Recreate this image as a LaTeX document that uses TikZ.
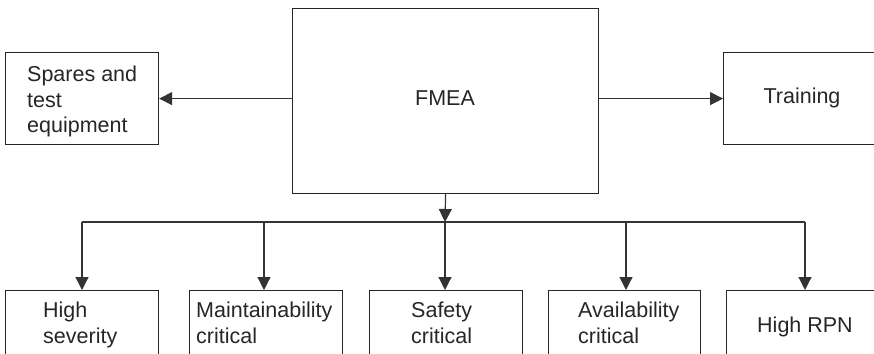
\documentclass[tikz,border=0pt]{standalone}
\usepackage{fontspec}
\setmainfont{Liberation Sans}
\usetikzlibrary{arrows.meta}
\begin{document}
\begin{tikzpicture}[x=1pt,y=-1pt,
 box/.style={draw=black!85, line width=1.2pt, inner sep=0pt, anchor=north west},
 lbl/.style={font=\fontsize{21.5}{25.5}\selectfont, text=black!85, inner sep=0pt, align=left},
 arr/.style={draw=black!80, line width=1.2pt, -{Triangle[length=13pt,width=13pt]}},
 ln/.style={draw=black!80, line width=1.2pt}]
\useasboundingbox (0,0) rectangle (874,353);
\clip (0,0) rectangle (874,353);
% top row
\node[box, minimum width=306pt, minimum height=185pt] (fmea) at (292,8) {};
\node[lbl] (fmeaT) at (445,98) {FMEA};
\node[box, minimum width=153pt, minimum height=92pt] (spares) at (5,52) {};
\node[lbl, anchor=north west] (sparesT) at (27,66) {Spares and\\test\\equipment};
\node[box, minimum width=170pt, minimum height=92pt] (train) at (723,52) {};
\node[lbl] (trainT) at (802,98) {Training};
% bottom row
\node[box, minimum width=153pt, minimum height=100pt] (b1) at (5,290) {};
\node[box, minimum width=153pt, minimum height=100pt] (b2) at (189,290) {};
\node[box, minimum width=153pt, minimum height=100pt] (b3) at (369,290) {};
\node[box, minimum width=152pt, minimum height=100pt] (b4) at (548,290) {};
\node[box, minimum width=170pt, minimum height=100pt] (b5) at (726,290) {};
\node[lbl, anchor=north west] (b1T) at (43,302) {High\\severity};
\node[lbl, anchor=north west] (b2T) at (196,302) {Maintainability\\critical};
\node[lbl, anchor=north west] (b3T) at (411,302) {Safety\\critical};
\node[lbl, anchor=north west] (b4T) at (578,302) {Availability\\critical};
\node[lbl] (b5T) at (805,327) {High RPN};
% connectors
\draw[arr] (fmea.west |- spares.east) -- (spares.east);
\draw[arr] (fmea.east |- train.west) -- (train.west);
\coordinate (bus) at (445,222);
\coordinate (busL) at (82,222);
\coordinate (busR) at (805,222);
\draw[arr] (fmea.south) -- (bus);
\draw[ln] (busL) -- (busR);
\draw[arr] (busL) -- (busL |- b1.north);
\draw[arr] (264,222) -- (264,290);
\draw[arr] (bus) -- (bus |- b3.north);
\draw[arr] (626,222) -- (626,290);
\draw[arr] (busR) -- (busR |- b5.north);
\end{tikzpicture}
\end{document}
